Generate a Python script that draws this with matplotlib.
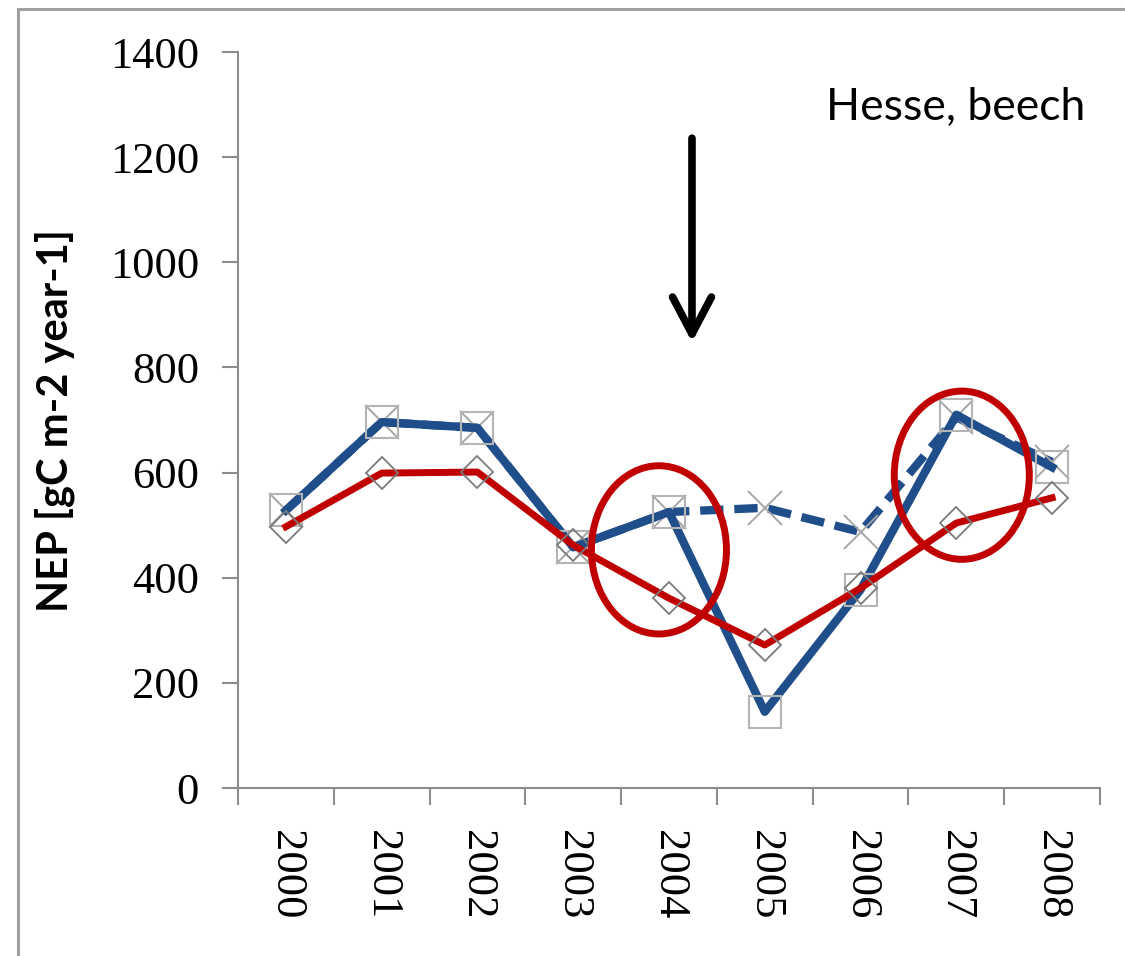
import matplotlib.pyplot as plt
import numpy as np
from matplotlib.patches import Ellipse, Rectangle

############------input-----##############
savename = "out.png"

years = ['2000', '2001', '2002', '2003', '2004', '2005', '2006', '2007', '2008']
nep_blue = [528, 696, 685, 458, 525, 145, 377, 710, 610]
nep_dash = [528, 696, 685, 458, 525, 533, 487, 705, 620]
nep_red = [497, 599, 601, 462, 361, 272, 380, 504, 552]

ylabel = 'NEP [gC m-2 year-1]'
site_label = 'Hesse, beech'

blue = '#1f4e8a'
red = '#c00000'
grey = '#8c8c8c'
##########################################

x = np.arange(len(years))

fig = plt.figure(figsize=(11.25, 9.56), dpi=100)
ax1 = fig.add_axes([238/1125, 1-788/956, (1100-238)/1125, (788-52)/956])

# dashed series first so the solid one sits on top where they coincide
ax1.plot(x, nep_dash, '--', color=blue, linewidth=6, dashes=(2.8, 1.3),
         marker='x', markersize=25, markeredgecolor='#a6a6a6', markeredgewidth=1.4, zorder=2)
ax1.plot(x, nep_blue, '-', color=blue, linewidth=6,
         marker='s', markersize=23, markerfacecolor='none', markeredgecolor='#b4b4b4',
         markeredgewidth=1.5, zorder=3)
ax1.plot(x, nep_red, '-', color=red, linewidth=5,
         marker='D', markersize=16, markerfacecolor='none', markeredgecolor='#7a7a7a',
         markeredgewidth=1.3, zorder=4)

# circled years
for cx, cy in [(3.895, 453), (7.057, 595)]:
    ax1.add_patch(Ellipse((cx, cy), 1.41, 320, fill=False, edgecolor=red, linewidth=5, zorder=5))

# drought arrow
ax1.annotate('', xy=(4.24, 848), xytext=(4.24, 1236),
             arrowprops=dict(arrowstyle='->,head_length=1.9,head_width=1.0', mutation_scale=14,
                             color='black', lw=5.5, shrinkA=0, shrinkB=0))

#軸設定
ax1.set_xlim(-0.5, len(years) - 0.5)
ax1.set_ylim(0, 1400)
ax1.set_yticks(np.arange(0, 1401, 200))
ax1.set_xticks(x)
ax1.set_xticklabels(years, rotation=270)
ax1.set_xticks(np.arange(-0.5, len(years), 1), minor=True)

for side in ['top', 'right']:
    ax1.spines[side].set_visible(False)
for side in ['left', 'bottom']:
    ax1.spines[side].set_color(grey)
    ax1.spines[side].set_linewidth(1.5)

ax1.tick_params(axis='y', direction='out', length=11.5, width=1.5, color=grey, pad=16.5,
                labelsize=32)
ax1.tick_params(axis='x', which='major', length=0, pad=30, labelsize=32)
ax1.tick_params(axis='x', which='minor', direction='out', length=12, width=1.5, color=grey)
for lab in ax1.get_xticklabels() + ax1.get_yticklabels():
    lab.set_family('Liberation Serif')

fig.text(0.0489, 1-421/956, ylabel, rotation=90, ha='center', va='center',
         fontsize=30, fontweight='bold', family='Lato')
fig.text(1085/1125, 1-120/956, site_label, ha='right', va='baseline',
         fontsize=32, family='Lato')

# outer frame, open to the right and bottom like the original crop
top = 1 - 9/956
fig.patches.append(Rectangle((18/1125, -0.2), 1.2, top + 0.2, transform=fig.transFigure,
                             fill=False, edgecolor='#a0a0a0', linewidth=2.2))

plt.savefig(savename)
